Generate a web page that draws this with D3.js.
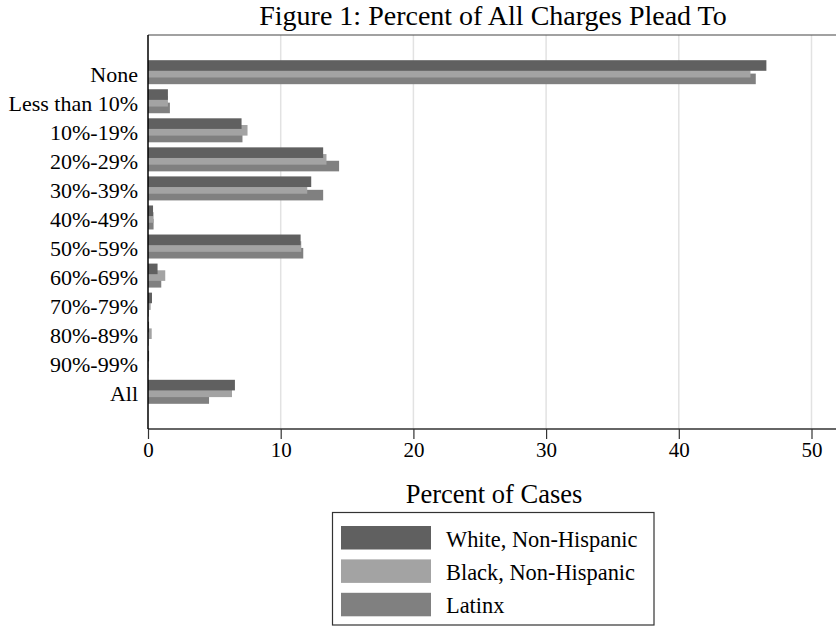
<!DOCTYPE html>
<html lang="en">
<head>
    <meta charset="UTF-8">
    <title>Figure 1: Percent of All Charges Plead To</title>
    <script src="https://d3js.org/d3.v7.min.js"></script>
    <style>
        body { margin: 0; background: #fff; }
        svg { display: block; font-family: "Liberation Serif", "DejaVu Serif", serif; }
    </style>
</head>
<body>
<div id="chart"></div>
<script>
    // categories and values (percent of cases)
    var categories = ["None", "Less than 10%", "10%-19%", "20%-29%", "30%-39%", "40%-49%",
        "50%-59%", "60%-69%", "70%-79%", "80%-89%", "90%-99%", "All"];
    var seriesNames = ["White, Non-Hispanic", "Black, Non-Hispanic", "Latinx"];
    var white  = [46.6, 1.5, 7.05, 13.2, 12.3, 0.38, 11.5, 0.72, 0.3, 0.08, 0.08, 6.55];
    var black  = [45.4, 1.5, 7.5, 13.45, 12.0, 0.42, 11.55, 1.3, 0.2, 0.28, 0.05, 6.33];
    var latinx = [45.8, 1.65, 7.12, 14.4, 13.2, 0.42, 11.7, 1.0, 0.05, 0.05, 0.03, 4.6];
    var xTicks = [0, 10, 20, 30, 40, 50];
    var colors = ["#606060", "#a3a3a3", "#808080"];

    const width = 836, height = 627;
    const plotLeft = 148, plotTop = 35, plotBottom = 429;

    var svg = d3.select("#chart").append("svg")
        .attr("width", width)
        .attr("height", height);

    const x = d3.scaleLinear().domain([0, 50]).range([plotLeft, 811.5]);
    const y = d3.scalePoint().domain(categories).range([plotTop, plotBottom]).padding(1.28);

    // gridlines
    svg.append("g")
        .selectAll("line")
        .data(xTicks.slice(1))
        .join("line")
        .attr("x1", d => x(d)).attr("x2", d => x(d))
        .attr("y1", plotTop).attr("y2", plotBottom)
        .attr("stroke", "#e2e2e2")
        .attr("stroke-width", 1.5);

    // top border
    svg.append("line")
        .attr("x1", plotLeft).attr("x2", width)
        .attr("y1", plotTop).attr("y2", plotTop)
        .attr("stroke", "#444").attr("stroke-width", 1.2);

    // bars: latinx drawn first, white on top
    var series = [white, black, latinx];
    const barH = 10.6, step = 6.7;
    [2, 1, 0].forEach(function (s) {
        svg.append("g")
            .selectAll("rect")
            .data(series[s])
            .join("rect")
            .attr("x", x(0))
            .attr("y", (d, i) => y(categories[i]) + (s - 1) * step - barH / 2)
            .attr("width", d => x(d) - x(0))
            .attr("height", barH)
            .attr("fill", colors[s]);
    });

    // x axis
    var xAxis = svg.append("g")
        .attr("transform", `translate(0,${plotBottom})`)
        .call(d3.axisBottom(x).tickValues(xTicks).tickSize(10).tickPadding(3).tickSizeOuter(0));
    xAxis.select(".domain").attr("stroke", "#333").attr("stroke-width", 1.5).attr("d", `M${plotLeft},0H${width}`);
    xAxis.selectAll(".tick line").attr("stroke", "#333").attr("stroke-width", 1.2);
    xAxis.selectAll("text").attr("font-size", 21).attr("fill", "#000")
        .attr("font-family", "Liberation Serif, serif");

    // y axis
    var yAxis = svg.append("g")
        .attr("transform", `translate(${plotLeft},0)`)
        .call(d3.axisLeft(y).tickSize(0).tickPadding(10));
    yAxis.select(".domain").attr("stroke", "#000").attr("stroke-width", 1.5)
        .attr("d", `M0,${plotTop}V${plotBottom}`);
    yAxis.selectAll("text").attr("font-size", 22).attr("fill", "#000")
        .attr("dy", "0.41em")
        .attr("font-family", "Liberation Serif, serif");

    // title
    svg.append("text")
        .attr("x", 493).attr("y", 25)
        .attr("text-anchor", "middle")
        .attr("font-size", 28)
        .text("Figure 1: Percent of All Charges Plead To");

    // axis title
    svg.append("text")
        .attr("x", 494).attr("y", 503)
        .attr("text-anchor", "middle")
        .attr("font-size", 26.5)
        .text("Percent of Cases");

    // legend
    var legend = svg.append("g");
    legend.append("rect")
        .attr("x", 332.5).attr("y", 512.5)
        .attr("width", 321.5).attr("height", 112.5)
        .attr("fill", "none").attr("stroke", "#333").attr("stroke-width", 1.2);
    var items = legend.selectAll("g.item")
        .data(seriesNames)
        .join("g")
        .attr("class", "item")
        .attr("transform", (d, i) => `translate(341,${526 + i * 33.4})`);
    items.append("rect")
        .attr("width", 90).attr("height", 23.5)
        .attr("fill", (d, i) => colors[i]);
    items.append("text")
        .attr("x", 105).attr("y", 20.7)
        .attr("font-size", 22.4)
        .text(d => d);
</script>
</body>
</html>
